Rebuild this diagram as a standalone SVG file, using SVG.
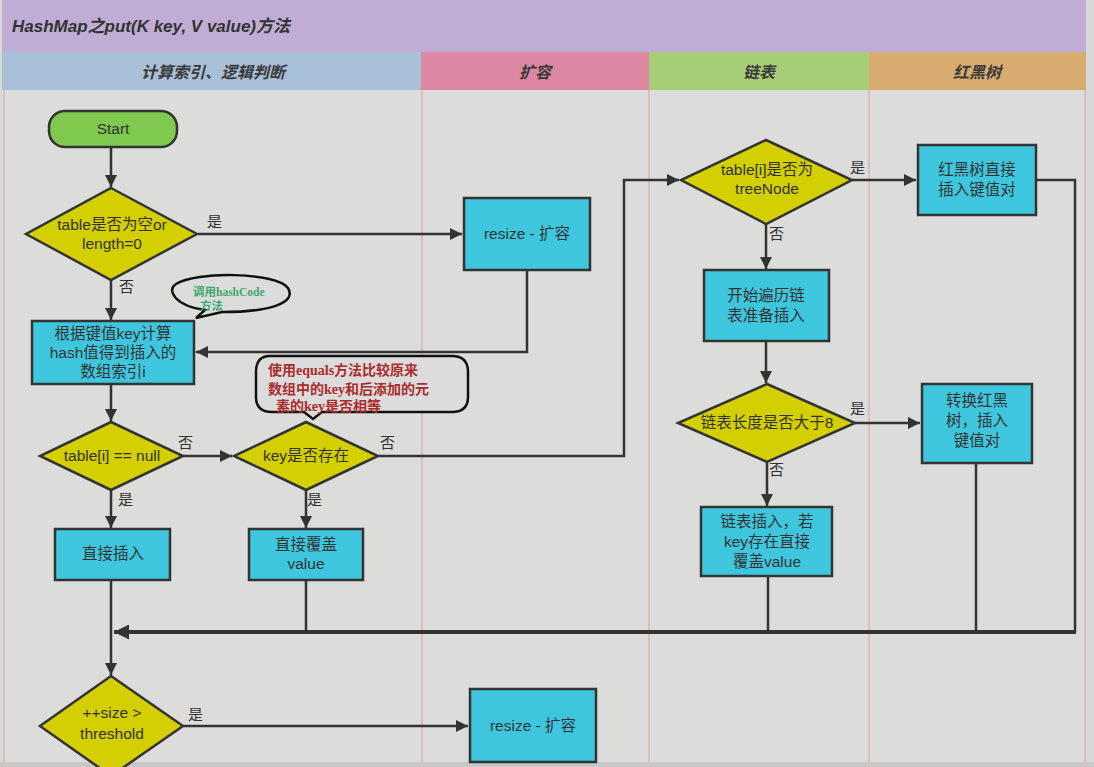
<svg xmlns="http://www.w3.org/2000/svg" width="1094" height="767" viewBox="0 0 1094 767">
<defs>
<marker id="ah" viewBox="0 0 10 10" refX="10" refY="5" markerWidth="15" markerHeight="12" markerUnits="userSpaceOnUse" orient="auto"><path d="M0,0 L10,5 L0,10 z" fill="#333"/></marker>
<marker id="ahb" viewBox="0 0 10 10" refX="10" refY="5" markerWidth="20" markerHeight="15" markerUnits="userSpaceOnUse" orient="auto"><path d="M0,0 L10,5 L0,10 z" fill="#333"/></marker>
</defs>
<style>
text{font-family:"Liberation Sans","Noto Sans CJK SC",sans-serif;fill:#333;}
.t{font-size:15.5px;text-anchor:middle;}
.lb{font-size:15px;}
.hd{font-size:16px;font-weight:bold;font-style:italic;text-anchor:middle;fill:#3a3a3a;}
.box{fill:#3ec6de;stroke:#333;stroke-width:2.5;}
.dia{fill:#d4cf00;stroke:#333;stroke-width:2.5;}
.ln{fill:none;stroke:#333;stroke-width:2.5;}
.thk{fill:none;stroke:#333;stroke-width:4;}
.sep{stroke:#d9a0a0;stroke-width:1;}
.call{fill:#dcdcdc;stroke:#111;stroke-width:2.5;}
.g{font-size:11.5px;font-weight:bold;fill:#3aaa6a;font-family:"Liberation Serif","Noto Sans CJK SC",serif;}
.r{font-size:14px;font-weight:bold;fill:#aa2c2c;font-family:"Liberation Serif","Noto Sans CJK SC",serif;}
</style>
<rect x="0" y="0" width="1094" height="767" fill="#d8d8d8"/>
<rect x="2" y="0" width="1084" height="762" fill="#dcdcdb"/>
<rect x="0" y="762" width="1094" height="5" fill="#c8c8c8"/>
<g id="title">
<rect x="2" y="0" width="1084" height="52" fill="#c0acd4"/>
<text x="12" y="32" style="font-size:17px;font-weight:bold;font-style:italic;">HashMap之put(K key, V value)方法</text>
</g>
<g id="lanes">
<rect x="2" y="52" width="419" height="38" fill="#a8bfd8"/>
<rect x="421" y="52" width="228" height="38" fill="#dd87a2"/>
<rect x="649" y="52" width="220" height="38" fill="#a6ce78"/>
<rect x="869" y="52" width="217" height="38" fill="#d8ab70"/>
<text class="hd" x="213" y="78">计算索引、逻辑判断</text>
<text class="hd" x="535" y="78">扩容</text>
<text class="hd" x="759" y="78">链表</text>
<text class="hd" x="977" y="78">红黑树</text>
<line class="sep" x1="4" y1="90" x2="4" y2="762"/>
<line class="sep" x1="422" y1="90" x2="422" y2="762"/>
<line class="sep" x1="649" y1="90" x2="649" y2="762"/>
<line class="sep" x1="869" y1="90" x2="869" y2="762"/>
<line class="sep" x1="1085" y1="90" x2="1085" y2="762"/>
</g>
<g id="connectors">
<line class="ln" x1="111" y1="147" x2="111" y2="187" marker-end="url(#ah)"/>
<line class="ln" x1="198" y1="234" x2="462" y2="234" marker-end="url(#ah)"/>
<line class="ln" x1="111" y1="280" x2="111" y2="320" marker-end="url(#ah)"/>
<polyline class="ln" points="527,270 527,352 196,352" marker-end="url(#ah)"/>
<line class="ln" x1="111" y1="384" x2="111" y2="421" marker-end="url(#ah)"/>
<line class="ln" x1="183" y1="456" x2="232" y2="456" marker-end="url(#ah)"/>
<polyline class="ln" points="378,456 624,456 624,180 679,180" marker-end="url(#ah)"/>
<line class="ln" x1="111" y1="490" x2="111" y2="528" marker-end="url(#ah)"/>
<line class="ln" x1="306" y1="490" x2="306" y2="528" marker-end="url(#ah)"/>
<line class="ln" x1="111" y1="580" x2="111" y2="675" marker-end="url(#ah)"/>
<line class="ln" x1="306" y1="580" x2="306" y2="632"/>
<line class="ln" x1="768" y1="577" x2="768" y2="632"/>
<line class="ln" x1="976" y1="463" x2="976" y2="632"/>
<polyline class="ln" points="1037,180 1075,180 1075,632"/>
<line class="thk" x1="1076" y1="632" x2="114" y2="632" marker-end="url(#ahb)"/>
<line class="ln" x1="183" y1="726" x2="468" y2="726" marker-end="url(#ah)"/>
<line class="ln" x1="852" y1="180" x2="916" y2="180" marker-end="url(#ah)"/>
<line class="ln" x1="766" y1="224" x2="766" y2="269" marker-end="url(#ah)"/>
<line class="ln" x1="766" y1="341" x2="766" y2="383" marker-end="url(#ah)"/>
<line class="ln" x1="855" y1="423" x2="920" y2="423" marker-end="url(#ah)"/>
<line class="ln" x1="767" y1="462" x2="767" y2="506" marker-end="url(#ah)"/>
<text class="lb" x="207" y="227">是</text>
<text class="lb" x="119" y="292">否</text>
<text class="lb" x="178" y="448">否</text>
<text class="lb" x="380" y="448">否</text>
<text class="lb" x="118" y="505">是</text>
<text class="lb" x="307" y="505">是</text>
<text class="lb" x="188" y="720">是</text>
<text class="lb" x="850" y="173">是</text>
<text class="lb" x="769" y="239">否</text>
<text class="lb" x="850" y="414">是</text>
<text class="lb" x="769" y="475">否</text>
</g>
<g id="start">
<rect x="49" y="111" width="128" height="36" rx="16" fill="#7ec94e" stroke="#333" stroke-width="2.5"/>
<text class="t" x="113" y="134">Start</text>
</g>
<g id="isEmpty">
<polygon class="dia" points="111,188 197,234 111,280 26,234"/>
<text class="t" x="112" y="230">table是否为空or</text>
<text class="t" x="112" y="249">length=0</text>
</g>
<g id="resize1">
<rect class="box" x="464" y="198" width="126" height="72"/>
<text class="t" x="527" y="239">resize - 扩容</text>
</g>
<g id="hashNote">
<path class="call" d="M196,318 L205,310 C175,306 166,290 176,284 C195,271 276,272 288,288 C297,303 270,312 222,312 Z"/>
<text class="g" x="193" y="296">调用hashCode</text>
<text class="g" x="200" y="310">方法</text>
</g>
<g id="calcIndex">
<rect class="box" x="32" y="321" width="162" height="63"/>
<text class="t" x="113" y="339">根据键值key计算</text>
<text class="t" x="113" y="358">hash值得到插入的</text>
<text class="t" x="113" y="377">数组索引i</text>
</g>
<g id="equalsNote">
<path class="call" d="M270,356 L452,356 Q468,356 468,372 L468,397 Q468,412 452,412 L322,412 L313,419 L304,412 L272,412 Q256,412 256,397 L256,372 Q256,356 270,356 Z"/>
<text class="r" x="268" y="375">使用equals方法比较原来</text>
<text class="r" x="268" y="394">数组中的key和后添加的元</text>
<text class="r" x="276" y="411">素的key是否相等</text>
</g>
<g id="isNull">
<polygon class="dia" points="111,422 183,456 111,490 40,456"/>
<text class="t" x="112" y="461">table[i] == null</text>
</g>
<g id="keyExists">
<polygon class="dia" points="306,422 378,456 306,490 234,456"/>
<text class="t" x="306" y="461">key是否存在</text>
</g>
<g id="directInsert">
<rect class="box" x="55" y="529" width="115" height="51"/>
<text class="t" x="113" y="559">直接插入</text>
</g>
<g id="overwrite">
<rect class="box" x="249" y="529" width="114" height="51"/>
<text class="t" x="306" y="550">直接覆盖</text>
<text class="t" x="306" y="569">value</text>
</g>
<g id="threshold">
<polygon class="dia" points="111,676 183,726 111,776 40,726"/>
<text class="t" x="112" y="718">++size &gt;</text>
<text class="t" x="112" y="739">threshold</text>
</g>
<g id="resize2">
<rect class="box" x="470" y="689" width="126" height="73"/>
<text class="t" x="533" y="731">resize - 扩容</text>
</g>
<g id="isTreeNode">
<polygon class="dia" points="766,140 852,180 766,224 681,180"/>
<text class="t" x="767" y="175">table[i]是否为</text>
<text class="t" x="767" y="194">treeNode</text>
</g>
<g id="treeInsert">
<rect class="box" x="918" y="145" width="118" height="70"/>
<text class="t" x="977" y="175">红黑树直接</text>
<text class="t" x="977" y="195">插入键值对</text>
</g>
<g id="traverse">
<rect class="box" x="704" y="270" width="125" height="71"/>
<text class="t" x="766" y="301">开始遍历链</text>
<text class="t" x="766" y="321">表准备插入</text>
</g>
<g id="lenCheck">
<polygon class="dia" points="767,384 855,423 767,462 678,423"/>
<text class="t" x="767" y="428">链表长度是否大于8</text>
</g>
<g id="toTree">
<rect class="box" x="922" y="384" width="110" height="79"/>
<text class="t" x="977" y="406">转换红黑</text>
<text class="t" x="977" y="426">树，插入</text>
<text class="t" x="977" y="446">键值对</text>
</g>
<g id="listInsert">
<rect class="box" x="701" y="507" width="131" height="69"/>
<text class="t" x="767" y="527">链表插入，若</text>
<text class="t" x="767" y="547">key存在直接</text>
<text class="t" x="767" y="567">覆盖value</text>
</g>
</svg>
